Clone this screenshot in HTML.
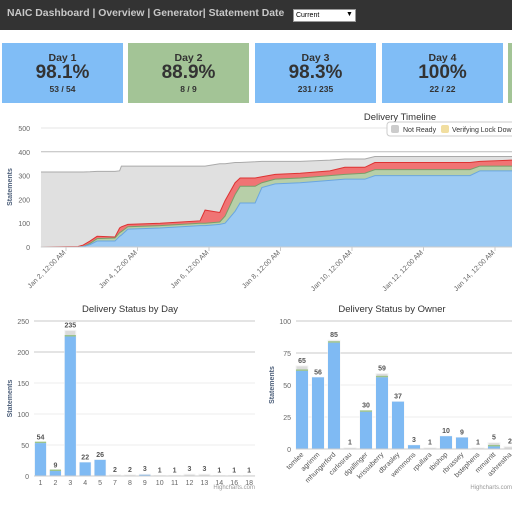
<!DOCTYPE html>
<html><head><meta charset="utf-8"><style>
body{margin:0;width:512px;height:512px;overflow:hidden;background:#fff;font-family:"Liberation Sans",sans-serif;position:relative}
.hdr{position:absolute;left:0;top:0;width:512px;height:30px;background:#333}
.hdr span{position:absolute;left:7px;top:8px;color:#c8c8c8;font-weight:bold;font-size:10.4px}
.sel{position:absolute;left:293px;top:9px;width:61px;height:11px;background:#fff;border:1px solid #999;font-size:7px;line-height:11px;color:#000}
.card{position:absolute;top:43px;width:121px;height:60px;text-align:center;color:#333;font-weight:bold}
.card .d{position:absolute;top:9px;width:100%;font-size:10.5px}
.card .p{position:absolute;top:19px;width:100%;font-size:19px}
.card .f{position:absolute;top:41px;width:100%;font-size:8.5px}
svg{position:absolute;left:0;top:0}
</style></head><body>
<div class="hdr"><span>NAIC Dashboard | Overview | Generator| Statement Date</span>
<div class="sel">&nbsp;Current<span style="position:absolute;left:52px;top:-1px;color:#000;font-size:7px">▼</span></div></div>
<div class="card" style="left:2px;background:#80bdf6"><div class="d">Day 1</div><div class="p">98.1%</div><div class="f">53 / 54</div></div>
<div class="card" style="left:128px;background:#a3c496"><div class="d">Day 2</div><div class="p">88.9%</div><div class="f">8 / 9</div></div>
<div class="card" style="left:255px;background:#80bdf6"><div class="d">Day 3</div><div class="p">98.3%</div><div class="f">231 / 235</div></div>
<div class="card" style="left:382px;background:#80bdf6"><div class="d">Day 4</div><div class="p">100%</div><div class="f">22 / 22</div></div>
<div class="card" style="left:508px;width:10px;background:#a3c496"></div>
<svg id="s" width="512" height="512" xmlns="http://www.w3.org/2000/svg" font-family="Liberation Sans, sans-serif"></svg>
<script>
// Timeline data (days since Jan 1 00:00)
const tDays=[1.3,2.34,2.48,2.67,2.87,3.37,3.5,3.55,3.73,4.63,5.75,5.89,6.3,6.45,6.73,6.87,7.29,7.48,7.85,8.55,9.38,9.8,10.36,10.64,13.3,13.58,14.5];
const delivered=[0,0,2,10,25,25,45,50,75,80,90,90,95,100,150,185,185,250,265,270,280,285,285,300,300,320,320];
const verifying=[0,0,0,5,10,13,15,15,10,10,10,10,10,30,70,70,70,20,20,20,20,20,25,25,25,20,20];
const failed=[0,2,6,10,10,4,20,20,10,10,10,55,40,65,50,35,35,25,20,20,20,30,25,30,30,20,25];
const totals=[315,315,315,316,318,318,320,340,340,340,340,340,350,350,355,355,358,360,360,360,365,370,370,380,380,380,380];
const tTicks=[2,4,6,8,10,12,14];
const tTickLabels=["Jan 2, 12:00 AM","Jan 4, 12:00 AM","Jan 6, 12:00 AM","Jan 8, 12:00 AM","Jan 10, 12:00 AM","Jan 12, 12:00 AM","Jan 14, 12:00 AM"];
const tYTicks=[0,100,200,300,400,500];
// By day
const dayCats=["1","2","3","4","5","7","8","9","10","11","12","13","14","16","18"];
const dayTotals=[54,9,235,22,26,2,2,3,1,1,3,3,1,1,1];
const dayDelivered=[53,8,225,22,26,0,0,2,0,0,0,0,0,0,0];
const dayYTicks=[0,50,100,150,200,250];
// By owner
const ownerCats=["tomlee","agrimm","mhungerford","carlosrau","dgallinger","krissaberry","dbrasley","wemmons","rpullara","tbishop","rbrassey","bstephens","mmarritt","ashrestha"];
const ownerTotals=[65,56,85,1,30,59,37,3,1,10,9,1,5,2];
const ownerDelivered=[61,56,83,0,29,56,37,3,0,10,9,0,2,0];
const ownerYTicks=[0,25,50,75,100];

const S=document.getElementById('s');const NS="http://www.w3.org/2000/svg";
function mk(t,a,txt){const e=document.createElementNS(NS,t);for(const k in a)e.setAttribute(k,a[k]);if(txt!==undefined)e.textContent=txt;S.appendChild(e);return e;}

// ---- timeline
const tx=d=>66+(d-2)*35.75, ty=v=>247-v*0.238;
tYTicks.forEach(v=>{const g=mk('line',{x1:41,x2:512,y1:ty(v),y2:ty(v),stroke:v===400?'#bbb':'#e6e6e6','stroke-width':1});

const l=mk('text',{x:30,y:ty(v)+3,'font-size':7,fill:'#666','text-anchor':'end'},v);
});
const layers=[delivered,verifying,failed];
const cum=[];let base=tDays.map(()=>0);
layers.forEach(a=>{base=base.map((b,i)=>b+a[i]);cum.push(base.slice());});
function stepPath(top,bot){let p='';tDays.forEach((d,i)=>{p+=(i?'L':'M')+tx(d)+','+ty(top[i]);});for(let i=tDays.length-1;i>=0;i--)p+='L'+tx(tDays[i])+','+ty(bot[i]);return p+'Z';}
const zero=tDays.map(()=>0);
const areas=[[totals,cum[2],'#e0e0e0','#aaa','timeline-not-ready-area'],[cum[2],cum[1],'#f07474','#d33','timeline-failed-area'],[cum[1],cum[0],'#b7cfa8','#7a9e6a','timeline-verifying-area'],[cum[0],zero,'#9ccaf3','#6aa6e0','timeline-delivered-area']];
areas.forEach(a=>{const p=mk('path',{d:stepPath(a[0],a[1]),fill:a[2],stroke:'none'});

let l='';tDays.forEach((d,i)=>{l+=(i?'L':'M')+tx(d)+','+ty(a[0][i]);});
mk('path',{d:l,fill:'none',stroke:a[3],'stroke-width':1});});
mk('line',{x1:41,x2:512,y1:247,y2:247,stroke:'#ccc'});
tTicks.forEach((d,i)=>{const x=tx(d);mk('line',{x1:x,x2:x,y1:247,y2:251,stroke:'#ccc'});
const t=mk('text',{x:x,y:253,'font-size':7,fill:'#666','text-anchor':'end',transform:`rotate(-45 ${x} 253)`},tTickLabels[i]);
});
let e=mk('text',{x:400,y:120,'font-size':9.5,fill:'#333','text-anchor':'middle'},'Delivery Timeline');
e=mk('text',{x:12,y:187,'font-size':7,'font-weight':'bold',fill:'#4d5f7a','text-anchor':'middle',transform:'rotate(-90 12 187)'},'Statements');
e=mk('rect',{x:387,y:122,width:130,height:14,rx:3,fill:'#fff',stroke:'#ccc'});
mk('rect',{x:391,y:125,width:8,height:8,rx:2,fill:'#ccc'});
e=mk('text',{x:403,y:132,'font-size':7,fill:'#333'},'Not Ready');
mk('rect',{x:441,y:125,width:8,height:8,rx:2,fill:'#f1dea0'});
e=mk('text',{x:452,y:132,'font-size':7,fill:'#333'},'Verifying Lock Dow');

// ---- bar charts
function bars(cats,tot,del,y0,scale,x0,step,xL,xR,yTicks,title,titleX,prefix,rotate){
 yTicks.forEach(v=>{const y=y0-v*scale;const g=mk('line',{x1:xL,x2:xR,y1:y,y2:y,stroke:v===yTicks[yTicks.length-1]||v===yTicks[yTicks.length-2]?'#c8c8c8':'#eee'});
 
 const l=mk('text',{x:xL-5,y:y+3,'font-size':7,fill:'#666','text-anchor':'end'},v);});
 cats.forEach((c,i)=>{const cx=x0+i*step,w=step*0.75;
  const h=tot[i]*scale,hd=del[i]*scale;
  const r=mk('rect',{x:cx-w/2,y:y0-h,width:w,height:h,fill:'#dcdcdc',stroke:'#f5f5f5'});
  if(tot[i]>del[i]&&tot[i]>3)mk('rect',{x:cx-w/2,y:y0-hd-1.5,width:w,height:1.5,fill:'#9cc38a'});
  const b=mk('rect',{x:cx-w/2,y:y0-hd,width:w,height:hd,fill:'#7fbaf3'});
  const v=mk('text',{x:cx,y:y0-h-3,'font-size':7,'font-weight':'bold',fill:'#555','text-anchor':'middle'},tot[i]);
  const t=rotate?mk('text',{x:cx+2,y:y0+6,'font-size':7,fill:'#555','text-anchor':'end',transform:`rotate(-45 ${cx+2} ${y0+6})`},c):mk('text',{x:cx,y:y0+9,'font-size':7,fill:'#666','text-anchor':'middle'},c);
  });
 mk('line',{x1:xL,x2:xR,y1:y0,y2:y0,stroke:'#ccc'});
 let e=mk('text',{x:titleX,y:312,'font-size':9.5,fill:'#333','text-anchor':'middle'},title);
 const ym=y0-yTicks[yTicks.length-1]*scale/2;
 e=mk('text',{x:xL-22,y:ym,'font-size':7,'font-weight':'bold',fill:'#4d5f7a','text-anchor':'middle',transform:`rotate(-90 ${xL-22} ${ym})`},'Statements');
}
bars(dayCats,dayTotals,dayDelivered,476,0.62,40.5,14.9,34,255,dayYTicks,'Delivery Status by Day',130,'day',false);
bars(ownerCats,ownerTotals,ownerDelivered,449,1.28,302,16,296,512,ownerYTicks,'Delivery Status by Owner',392,'owner',true);
e=mk('text',{x:255,y:489,'font-size':6,fill:'#999','text-anchor':'end'},'Highcharts.com');
e=mk('text',{x:512,y:489,'font-size':6,fill:'#999','text-anchor':'end'},'Highcharts.com');
</script>
</body></html>
